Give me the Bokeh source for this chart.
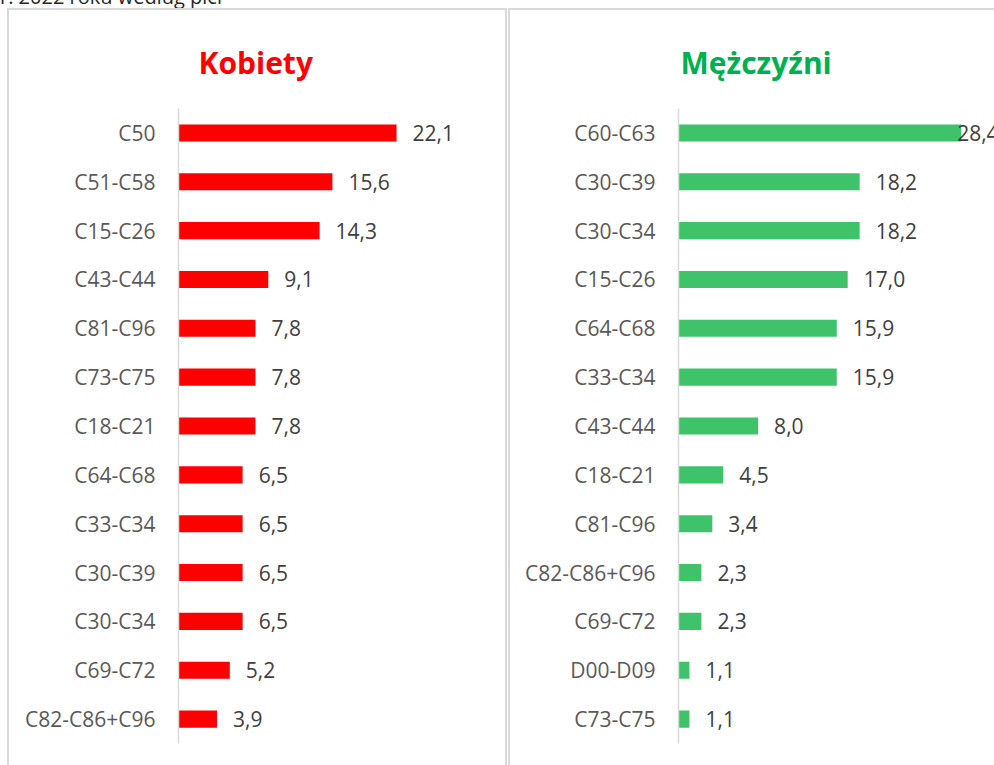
from bokeh.plotting import figure
from bokeh.models import ColumnDataSource, FactorRange, Range1d, Div, Spacer
from bokeh.layouts import row, column
from bokeh.embed import file_html
from bokeh.resources import INLINE
from bokeh.core.properties import value

# ---- data ----
top_text = "r. 2022 roku według płci"

women_title = "Kobiety"
women_cats = ["C50", "C51-C58", "C15-C26", "C43-C44", "C81-C96", "C73-C75", "C18-C21",
              "C64-C68", "C33-C34", "C30-C39", "C30-C34", "C69-C72", "C82-C86+C96"]
women_vals = [22.1, 15.6, 14.3, 9.1, 7.8, 7.8, 7.8, 6.5, 6.5, 6.5, 6.5, 5.2, 3.9]

men_title = "Mężczyźni"
men_cats = ["C60-C63", "C30-C39", "C30-C34", "C15-C26", "C64-C68", "C33-C34", "C43-C44",
            "C18-C21", "C81-C96", "C82-C86+C96", "C69-C72", "D00-D09", "C73-C75"]
men_vals = [28.4, 18.2, 18.2, 17.0, 15.9, 15.9, 8.0, 4.5, 3.4, 2.3, 2.3, 1.1, 1.1]

FONT = "Open Sans"
BORDER = "2px solid #d9d9d9"


def panel(title, title_color, bar_color, cats, vals, width, xmax, left_border,
          title_offset, styles):
    # display labels with comma decimal separator
    labels = [f"{v:.1f}".replace(".", ",") for v in vals]
    offs = [16 if v < 27 else -4 for v in vals]
    src = ColumnDataSource(dict(cat=cats, val=vals, lab=labels, off=offs))
    p = figure(width=width, height=757, output_backend="svg", toolbar_location=None,
               y_range=FactorRange(factors=cats[::-1], range_padding=0),
               x_range=Range1d(0, xmax), x_axis_location=None,
               min_border_left=left_border, min_border_right=0,
               min_border_top=98, min_border_bottom=24, styles=styles)
    p.title.text = title
    p.title.text_color = title_color
    p.title.text_font = FONT
    p.title.text_font_size = "30px"
    p.title.text_font_style = "bold"
    p.title.align = "left"
    p.title.offset = title_offset
    p.title.standoff = 51
    p.outline_line_color = None
    p.xgrid.visible = False
    p.ygrid.visible = False
    p.hbar(y="cat", right="val", left=0, height=0.35, source=src,
           fill_color=bar_color, line_color=None)
    p.text(x="val", y="cat", text="lab", x_offset="off", source=src,
           text_font=value(FONT), text_font_size="21px", text_color="#404040",
           text_baseline="middle", text_align="left")
    ax = p.yaxis[0]
    ax.axis_line_color = "#d9d9d9"
    ax.axis_line_width = 1.5
    ax.major_tick_line_color = None
    ax.minor_tick_line_color = None
    ax.major_tick_out = 0
    ax.major_tick_in = 0
    ax.major_label_standoff = 23
    ax.major_label_text_font = FONT
    ax.major_label_text_font_size = "21px"
    ax.major_label_text_color = "#595959"
    return p


p1 = panel(women_title, "#FF0000", "#FF0000", women_cats, women_vals, 500, 33.55, 169, 20,
           {"border-left": BORDER, "border-top": BORDER, "border-right": BORDER})
p2 = panel(men_title, "#00B050", "#3EC36B", men_cats, men_vals, 486, 31.95, 168, 2,
           {"border-left": BORDER, "border-top": BORDER})

head = Div(
    text=('<div style="position:relative; top:-15px; left:0px; white-space:nowrap; '
          'font-family:\'Open Sans\'; font-size:20px; line-height:24px; color:#262626;">'
          + top_text + '</div>'),
    width=994, height=8, margin=0, styles={"overflow": "hidden"})

layout = column(head, row(Spacer(width=7), p1, Spacer(width=1), p2, spacing=0), spacing=0)
open("out.html", "w").write(file_html(layout, INLINE))
